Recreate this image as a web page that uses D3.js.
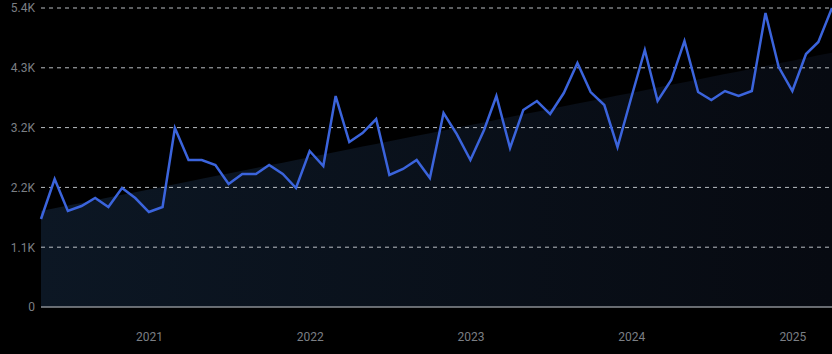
<!DOCTYPE html>
<html>
<head>
<meta charset="utf-8">
<script src="https://cdn.jsdelivr.net/npm/d3@7"></script>
<style>
  html, body { margin: 0; padding: 0; background: #000; }
  svg { display: block; }
</style>
</head>
<body>
<svg id="chart" width="832" height="354"></svg>
<script>
// Monthly values, May 2020 – Apr 2025
const startMonth = "2020-05";
const values = [
  1583, 2303, 1727, 1817, 1961, 1799, 2141, 1961, 1709, 1799,
  3220, 2645, 2645, 2555, 2213, 2393, 2393, 2555, 2393, 2141,
  2807, 2537, 3796, 2969, 3130, 3382, 2375, 2483, 2645, 2321,
  3490, 3112, 2645, 3184, 3796, 2861, 3544, 3706, 3472, 3850,
  4390, 3868, 3634, 2878, 3760, 4624, 3706, 4084, 4786, 3868,
  3724, 3886, 3796, 3886, 5289, 4318, 3886, 4552, 4768, 5380
];
const yTicks = [0, 1076, 2152, 3228, 4304, 5380];
const yTickLabels = ["0", "1.1K", "2.2K", "3.2K", "4.3K", "5.4K"];
const xTickYears = ["2021", "2022", "2023", "2024", "2025"];

const W = 832, H = 354;
const margin = { top: 8, right: 0, bottom: 47, left: 41 };
const svg = d3.select("#chart");

const parse = d3.timeParse("%Y-%m");
const t0 = parse(startMonth);
const data = values.map((v, i) => ({ date: d3.timeMonth.offset(t0, i), value: v }));

const x = d3.scaleTime()
  .domain(d3.extent(data, d => d.date))
  .range([margin.left, W - margin.right]);
const y = d3.scaleLinear()
  .domain([0, d3.max(yTicks)])
  .range([H - margin.bottom, margin.top]);

// Linear regression trend
const n = data.length;
const xs = d3.range(n);
const mx = d3.mean(xs), my = d3.mean(values);
const slope = d3.sum(xs, i => (i - mx) * (values[i] - my)) / d3.sum(xs, i => (i - mx) * (i - mx));
const intercept = my - slope * mx;
const trend = data.map((d, i) => ({ date: d.date, value: intercept + slope * i }));

const defs = svg.append("defs");
const grad = defs.append("linearGradient").attr("id", "areaGrad")
  .attr("x1", "0").attr("y1", "0").attr("x2", "1").attr("y2", "0");
grad.append("stop").attr("offset", "0%").attr("stop-color", "#0c1724");
grad.append("stop").attr("offset", "100%").attr("stop-color", "#070a11");

// Trend area
svg.append("path")
  .datum(trend)
  .attr("fill", "url(#areaGrad)")
  .attr("d", d3.area().x(d => x(d.date)).y0(y(0)).y1(d => y(d.value)));

// Gridlines
svg.append("g")
  .selectAll("line")
  .data(yTicks.slice(1))
  .join("line")
  .attr("x1", margin.left).attr("x2", W - margin.right)
  .attr("y1", d => y(d)).attr("y2", d => y(d))
  .attr("stroke", "#d8dde2")
  .attr("stroke-opacity", 0.85)
  .attr("stroke-width", 1)
  .attr("stroke-dasharray", "4,4");

// Baseline
svg.append("line")
  .attr("x1", margin.left).attr("x2", W - margin.right)
  .attr("y1", y(0)).attr("y2", y(0))
  .attr("stroke", "#8a8e93").attr("stroke-width", 1.5);

// Y axis labels
const yAxis = d3.axisLeft(y).tickValues(yTicks).tickFormat((d, i) => yTickLabels[i]).tickSize(0).tickPadding(6);
svg.append("g")
  .attr("transform", `translate(${margin.left},0)`)
  .call(yAxis)
  .call(g => g.select(".domain").remove())
  .call(g => g.selectAll("text")
    .attr("fill", "#7b7f84")
    .style("font-family", "Roboto, 'DejaVu Sans', sans-serif")
    .style("font-size", "12px"));

// X axis labels
const yearDates = xTickYears.map(s => d3.timeParse("%Y")(s));
const xAxis = d3.axisBottom(x).tickValues(yearDates).tickFormat(d3.timeFormat("%Y")).tickSize(0).tickPadding(25);
svg.append("g")
  .attr("transform", `translate(0,${y(0)})`)
  .call(xAxis)
  .call(g => g.select(".domain").remove())
  .call(g => g.selectAll("text")
    .attr("fill", "#7b7f84")
    .style("font-family", "Roboto, 'DejaVu Sans', sans-serif")
    .style("font-size", "12px"));

// Line
svg.append("path")
  .datum(data)
  .attr("fill", "none")
  .attr("stroke", "#3b64dc")
  .attr("stroke-width", 2.5)
  .attr("stroke-linejoin", "miter")
  .attr("d", d3.line().x(d => x(d.date)).y(d => y(d.value)));
</script>
</body>
</html>
